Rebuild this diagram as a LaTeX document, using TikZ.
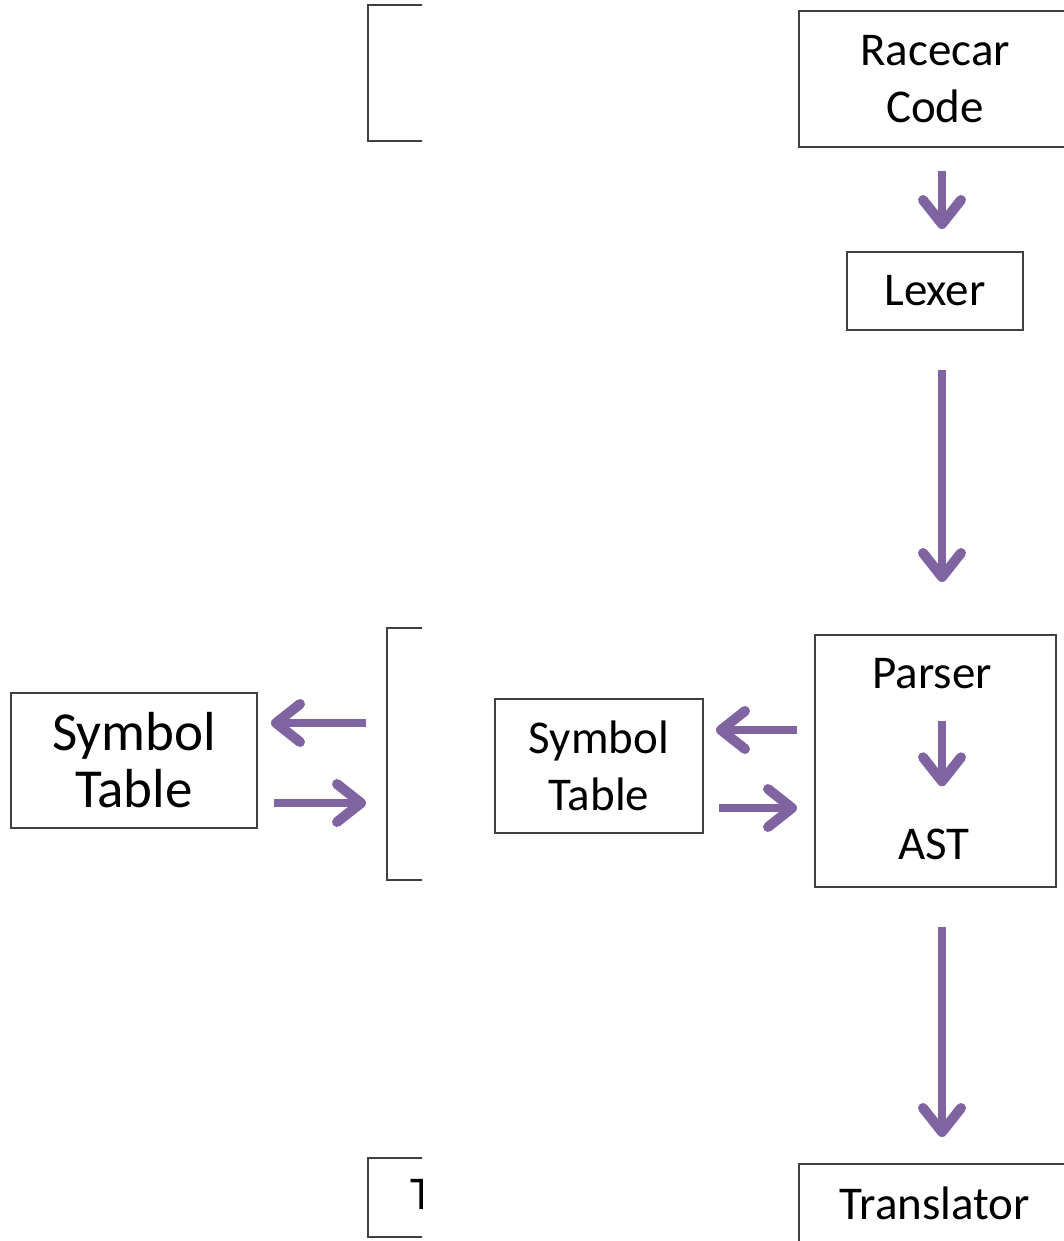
\documentclass[tikz,border=0pt]{standalone}
\usepackage{fontspec}
\setmainfont{Carlito}
\usetikzlibrary{arrows.meta,positioning}
\definecolor{flowpurple}{HTML}{8064A2}
\definecolor{boxline}{HTML}{404040}
\tikzset{
  box/.style={draw=boxline, line width=2pt, align=center, inner sep=0pt,
    font=\fontsize{47}{57}\selectfont},
  boxtext/.style={inner sep=0pt, font=\fontsize{47}{57}\selectfont},
  flow/.style={draw=flowpurple, line width=8pt,
    -{Straight Barb[length=24pt,width=38pt,round,line width=10pt]}},
}

\begin{document}
\begin{tikzpicture}[x=1pt,y=-1pt]
    \useasboundingbox (0,0) rectangle (1064,1241);

    % Front layer: compiler pipeline
    \node[box, minimum width=272pt, minimum height=136pt] (code) at (935,79) {Racecar\\Code};
    \node[box, minimum width=176pt, minimum height=78pt] (lexer) at (935,291) {Lexer};
    \node[box, minimum width=241pt, minimum height=252pt] (parserbox) at (935.5,761) {};
    \node[boxtext, anchor=base] (parser) at (932,688) {Parser};
    \node[boxtext, anchor=base] (ast) at (934,859) {AST};
    \node[box, minimum width=208pt, minimum height=134pt] (symtab) at (599,766) {Symbol\\Table};
    \node[box, minimum width=272pt, minimum height=79pt] (translator) at (935,1203.5) {Translator};

    \draw[flow, shorten <=23pt, shorten >=22pt] ([xshift=7pt]code.south) -- ([xshift=7pt]lexer.north);
    \draw[flow, shorten <=39pt, shorten >=52pt] ([xshift=7pt]lexer.south) -- ([xshift=6.5pt]parserbox.north);
    \draw[flow, shorten <=32pt, shorten >=42pt] ([xshift=10pt]parser.south) -- ([xshift=8pt]ast.north);
    \draw[flow, shorten <=39pt, shorten >=26pt] ([xshift=6.5pt]parserbox.south) -- ([xshift=7pt]translator.north);
    \draw[flow, shorten <=17pt, shorten >=12pt] ([yshift=31pt]parserbox.west) -- ([yshift=36pt]symtab.east);
    \draw[flow, shorten <=15pt, shorten >=17pt] ([yshift=-42pt]symtab.east) -- ([yshift=-47pt]parserbox.west);

    % Back layer, cut off at the left
    \begin{scope}
        \clip (0,0) rectangle (422,1241);
        \node[box, minimum width=272pt, minimum height=136pt] (codecopy) at (504,73) {};
        \node[box, minimum width=241pt, minimum height=252pt] (parsercopy) at (507.5,754) {};
        \node[box, minimum width=272pt, minimum height=79pt] (translatorcopy) at (504,1197.5) {};
        \node[boxtext, anchor=base west] (translatortext) at (410,1209) {Translator};
        \node[box, minimum width=246pt, minimum height=135pt,
          font=\fontsize{55}{57}\selectfont] (symtabcopy) at (134,760.5) {Symbol\\Table};

        \draw[flow, shorten <=20pt, shorten >=13pt] ([yshift=31pt]parsercopy.west) -- ([yshift=37.5pt]symtabcopy.east);
        \draw[flow, shorten <=16pt, shorten >=20pt] ([yshift=-42.5pt]symtabcopy.east) -- ([yshift=-49pt]parsercopy.west);
    \end{scope}
\end{tikzpicture}
\end{document}
